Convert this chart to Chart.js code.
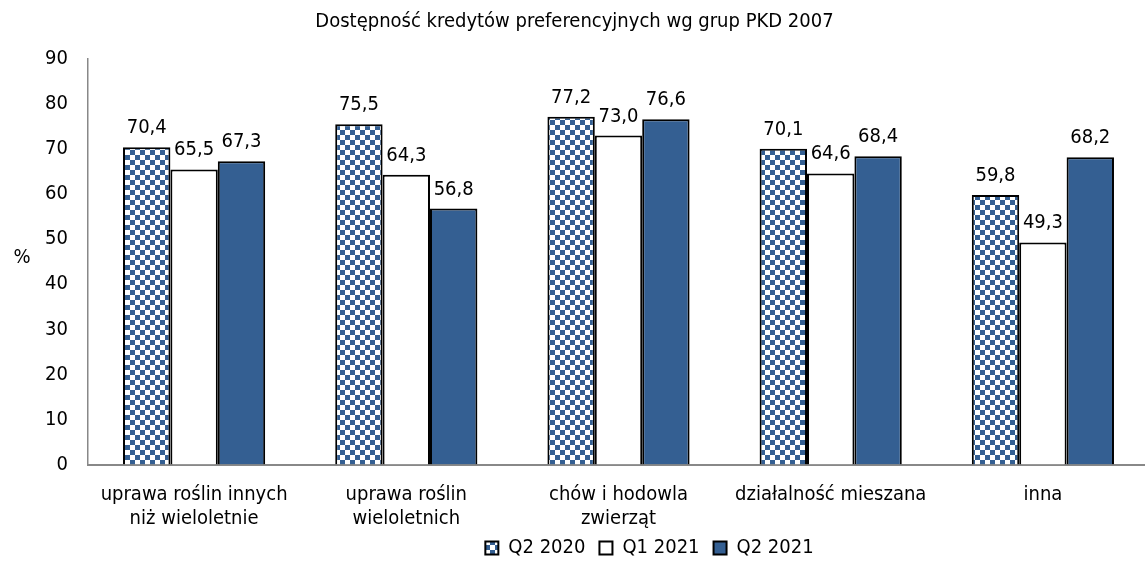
<!DOCTYPE html>
<html lang="pl">
<head>
<meta charset="utf-8">
<title>Dostępność kredytów preferencyjnych wg grup PKD 2007</title>
<script src="https://cdn.jsdelivr.net/npm/chart.js@4/dist/chart.umd.min.js"></script>
<style>
    html, body { margin: 0; padding: 0; background: #fff; overflow: hidden; }
    #wrap { width: 1149px; height: 564px; }
</style>
</head>
<body>
<div id="wrap"><canvas id="barChart"></canvas></div>
<script>
// Dane
const categories = [
    ['uprawa roślin innych', 'niż wieloletnie'],
    ['uprawa roślin', 'wieloletnich'],
    ['chów i hodowla', 'zwierząt'],
    'działalność mieszana',
    'inna'
];
const seriesNames = ['Q2 2020', 'Q1 2021', 'Q2 2021'];
const q2_2020 = [70.4, 75.5, 77.2, 70.1, 59.8];
const q1_2021 = [65.5, 64.3, 73.0, 64.6, 49.3];
const q2_2021 = [67.3, 56.8, 76.6, 68.4, 68.2];
const yTicks = [0, 10, 20, 30, 40, 50, 60, 70, 80, 90];

const BLUE = '#345f92';
const FONT = "'DejaVu Sans Condensed', 'DejaVu Sans', sans-serif";

Chart.defaults.font.family = FONT;
Chart.defaults.font.size = 20;
Chart.defaults.color = '#000';

// Szachownica dla Q2 2020
function checkerPattern() {
    const c = document.createElement('canvas');
    c.width = 10;
    c.height = 10;
    const g = c.getContext('2d');
    g.fillStyle = '#fff';
    g.fillRect(0, 0, 10, 10);
    g.fillStyle = BLUE;
    g.fillRect(0, 0, 5, 5);
    g.fillRect(5, 5, 5, 5);
    return g.createPattern(c, 'repeat');
}
const ctx = document.getElementById('barChart').getContext('2d');
const checker = checkerPattern();

// Etykiety wartości nad słupkami
const valueLabels = {
    id: 'valueLabels',
    afterDatasetsDraw(chart) {
        const c = chart.ctx;
        c.save();
        c.font = '20px ' + FONT;
        c.fillStyle = '#000';
        c.textAlign = 'center';
        c.textBaseline = 'alphabetic';
        chart.data.datasets.forEach((ds, i) => {
            chart.getDatasetMeta(i).data.forEach((bar, j) => {
                c.fillText(ds.data[j].toFixed(1).replace('.', ','), bar.x, bar.y - 14);
            });
        });
        c.restore();
    }
};

// Opis osi Y (poziomo)
const yAxisLabel = {
    id: 'yAxisLabel',
    afterDraw(chart) {
        const c = chart.ctx;
        c.save();
        c.font = '20px ' + FONT;
        c.fillStyle = '#000';
        c.textAlign = 'center';
        c.textBaseline = 'middle';
        c.fillText('%', 22, 258);
        c.restore();
    }
};

// Legenda trochę w prawo i wyżej
const legendShift = {
    id: 'legendShift',
    afterLayout(chart) {
        const l = chart.legend;
        l.left += 75;
        l.right += 75;
        l.top -= 6.5;
        l.bottom -= 6.5;
    }
};

const barChart = new Chart(ctx, {
    type: 'bar',
    data: {
        labels: categories,
        datasets: [{
            label: seriesNames[0],
            data: q2_2020,
            backgroundColor: checker,
            borderColor: '#000',
            borderWidth: 2
        }, {
            label: seriesNames[1],
            data: q1_2021,
            backgroundColor: '#fff',
            borderColor: '#000',
            borderWidth: 2
        }, {
            label: seriesNames[2],
            data: q2_2021,
            backgroundColor: BLUE,
            borderColor: '#000',
            borderWidth: 2
        }]
    },
    options: {
        responsive: true,
        maintainAspectRatio: false,
        animation: false,
        categoryPercentage: 0.67,
        barPercentage: 1,
        layout: { padding: { top: 0, left: 0, right: 0, bottom: -10.5 } },
        plugins: {
            title: {
                display: true,
                text: 'Dostępność kredytów preferencyjnych wg grup PKD 2007',
                font: { size: 20, weight: 'normal' },
                color: '#000',
                padding: { top: 10, bottom: 25 }
            },
            legend: {
                position: 'bottom',
                labels: {
                    boxWidth: 13,
                    boxHeight: 13,
                    padding: 14,
                    font: { size: 20 },
                    color: '#000'
                }
            },
            tooltip: { enabled: false }
        },
        scales: {
            x: {
                afterFit(scale) {
                    scale.height = 66;
                },
                grid: { display: false, drawTicks: false },
                border: { color: '#888', width: 2 },
                ticks: { padding: 18, maxRotation: 0, font: { size: 20 } }
            },
            y: {
                min: 0,
                max: 90,
                afterBuildTicks(scale) {
                    scale.ticks = yTicks.map(v => ({ value: v }));
                },
                afterFit(scale) {
                    scale.width = 88;
                },
                grid: { display: false, drawTicks: false },
                border: { color: '#888', width: 1.5 },
                ticks: { padding: 20, font: { size: 20 } }
            }
        }
    },
    plugins: [valueLabels, yAxisLabel, legendShift]
});
</script>
</body>
</html>
